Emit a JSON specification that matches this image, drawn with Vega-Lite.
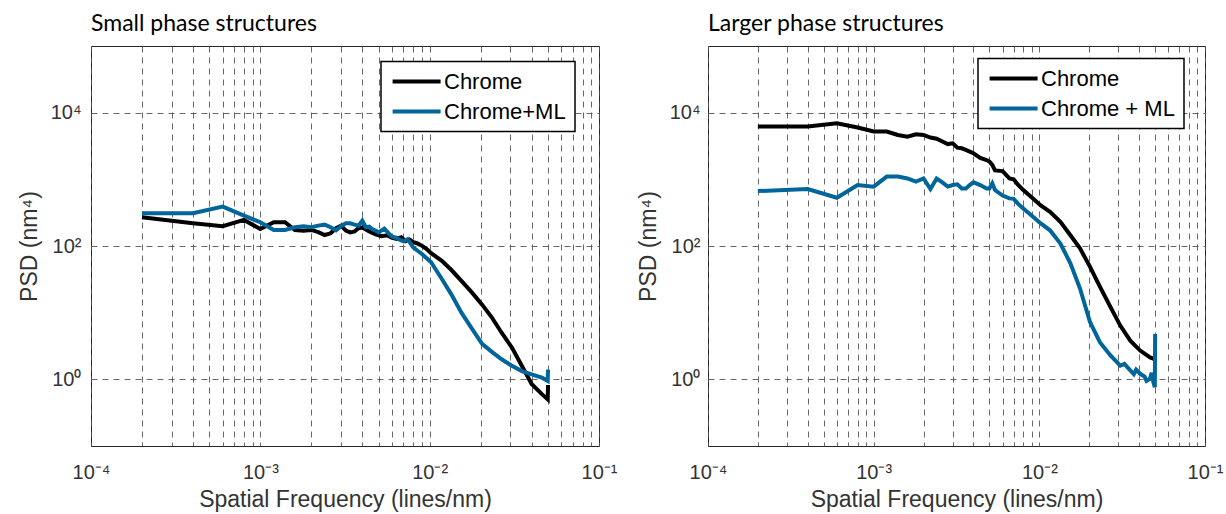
{
  "$schema": "https://vega.github.io/schema/vega-lite/v6.json",
  "background": "white",
  "padding": {"left": 17, "top": 12, "right": 5, "bottom": 2},
  "config": {
    "view": {"stroke": "#262626", "strokeWidth": 1},
    "font": "Liberation Sans",
    "axis": {
      "grid": true, "gridDash": [6, 5], "gridColor": "#4d4d4d", "gridOpacity": 0.85, "gridWidth": 1,
      "domain": false, "ticks": false,
      "labelFont": "Liberation Sans", "labelFontSize": 20, "labelColor": "#333333",
      "titleFont": "Liberation Sans", "titleFontSize": 23, "titleColor": "#333333", "titleFontWeight": "normal",
      "labelFlush": false, "labelOverlap": false
    },
    "legend": {
      "symbolType": "M-1.4,0H6.6", "symbolStrokeWidth": 4, "symbolSize": 144,
      "labelFont": "Liberation Sans", "labelFontSize": 22, "labelColor": "#000000",
      "strokeColor": "#000000", "strokeWidth": 1.5, "fillColor": "#ffffff", "padding": 9, "rowPadding": 8, "labelOffset": 32,
      "symbolOpacity": 1
    },
    "title": {"anchor": "start", "frame": "group", "font": "Lato", "fontSize": 23, "fontWeight": "normal", "color": "#000000", "offset": 10}
  },
  "data": {"values": [
    {"panel": "S", "series": "Chrome", "f": 0.0002, "psd": 270},
    {"panel": "S", "series": "Chrome", "f": 0.0004, "psd": 219},
    {"panel": "S", "series": "Chrome", "f": 0.0006, "psd": 198},
    {"panel": "S", "series": "Chrome", "f": 0.0008, "psd": 246},
    {"panel": "S", "series": "Chrome", "f": 0.001, "psd": 180},
    {"panel": "S", "series": "Chrome", "f": 0.0012, "psd": 227},
    {"panel": "S", "series": "Chrome", "f": 0.0014, "psd": 227},
    {"panel": "S", "series": "Chrome", "f": 0.0016, "psd": 174},
    {"panel": "S", "series": "Chrome", "f": 0.0018, "psd": 170},
    {"panel": "S", "series": "Chrome", "f": 0.002, "psd": 174},
    {"panel": "S", "series": "Chrome", "f": 0.0022, "psd": 161},
    {"panel": "S", "series": "Chrome", "f": 0.0024, "psd": 146},
    {"panel": "S", "series": "Chrome", "f": 0.0026, "psd": 155},
    {"panel": "S", "series": "Chrome", "f": 0.0028, "psd": 185},
    {"panel": "S", "series": "Chrome", "f": 0.003, "psd": 202},
    {"panel": "S", "series": "Chrome", "f": 0.0032, "psd": 170},
    {"panel": "S", "series": "Chrome", "f": 0.0034, "psd": 160},
    {"panel": "S", "series": "Chrome", "f": 0.0036, "psd": 165},
    {"panel": "S", "series": "Chrome", "f": 0.0038, "psd": 185},
    {"panel": "S", "series": "Chrome", "f": 0.004, "psd": 190},
    {"panel": "S", "series": "Chrome", "f": 0.0044, "psd": 165},
    {"panel": "S", "series": "Chrome", "f": 0.0048, "psd": 150},
    {"panel": "S", "series": "Chrome", "f": 0.0052, "psd": 140},
    {"panel": "S", "series": "Chrome", "f": 0.0056, "psd": 145},
    {"panel": "S", "series": "Chrome", "f": 0.006, "psd": 132},
    {"panel": "S", "series": "Chrome", "f": 0.0064, "psd": 128},
    {"panel": "S", "series": "Chrome", "f": 0.0068, "psd": 135},
    {"panel": "S", "series": "Chrome", "f": 0.0072, "psd": 118},
    {"panel": "S", "series": "Chrome", "f": 0.0076, "psd": 125},
    {"panel": "S", "series": "Chrome", "f": 0.008, "psd": 114},
    {"panel": "S", "series": "Chrome", "f": 0.0084, "psd": 110},
    {"panel": "S", "series": "Chrome", "f": 0.009, "psd": 101},
    {"panel": "S", "series": "Chrome", "f": 0.0096, "psd": 90},
    {"panel": "S", "series": "Chrome", "f": 0.0102, "psd": 78},
    {"panel": "S", "series": "Chrome", "f": 0.0118, "psd": 60},
    {"panel": "S", "series": "Chrome", "f": 0.0134, "psd": 44},
    {"panel": "S", "series": "Chrome", "f": 0.0154, "psd": 30},
    {"panel": "S", "series": "Chrome", "f": 0.0178, "psd": 20},
    {"panel": "S", "series": "Chrome", "f": 0.0204, "psd": 13.2},
    {"panel": "S", "series": "Chrome", "f": 0.0232, "psd": 8.6},
    {"panel": "S", "series": "Chrome", "f": 0.0266, "psd": 5.0},
    {"panel": "S", "series": "Chrome", "f": 0.0306, "psd": 3.0},
    {"panel": "S", "series": "Chrome", "f": 0.035, "psd": 1.6},
    {"panel": "S", "series": "Chrome", "f": 0.04, "psd": 0.85},
    {"panel": "S", "series": "Chrome", "f": 0.046, "psd": 0.6},
    {"panel": "S", "series": "Chrome", "f": 0.0498, "psd": 0.5},
    {"panel": "S", "series": "Chrome", "f": 0.05, "psd": 0.82},
    {"panel": "S", "series": "Chrome+ML", "f": 0.0002, "psd": 310},
    {"panel": "S", "series": "Chrome+ML", "f": 0.0004, "psd": 310},
    {"panel": "S", "series": "Chrome+ML", "f": 0.0006, "psd": 390},
    {"panel": "S", "series": "Chrome+ML", "f": 0.0008, "psd": 285},
    {"panel": "S", "series": "Chrome+ML", "f": 0.001, "psd": 227},
    {"panel": "S", "series": "Chrome+ML", "f": 0.0012, "psd": 174},
    {"panel": "S", "series": "Chrome+ML", "f": 0.0014, "psd": 174},
    {"panel": "S", "series": "Chrome+ML", "f": 0.0016, "psd": 191},
    {"panel": "S", "series": "Chrome+ML", "f": 0.0018, "psd": 198},
    {"panel": "S", "series": "Chrome+ML", "f": 0.002, "psd": 191},
    {"panel": "S", "series": "Chrome+ML", "f": 0.0022, "psd": 202},
    {"panel": "S", "series": "Chrome+ML", "f": 0.0024, "psd": 209},
    {"panel": "S", "series": "Chrome+ML", "f": 0.0026, "psd": 191},
    {"panel": "S", "series": "Chrome+ML", "f": 0.0028, "psd": 172},
    {"panel": "S", "series": "Chrome+ML", "f": 0.003, "psd": 200},
    {"panel": "S", "series": "Chrome+ML", "f": 0.0032, "psd": 219},
    {"panel": "S", "series": "Chrome+ML", "f": 0.0034, "psd": 219},
    {"panel": "S", "series": "Chrome+ML", "f": 0.0036, "psd": 209},
    {"panel": "S", "series": "Chrome+ML", "f": 0.0038, "psd": 202},
    {"panel": "S", "series": "Chrome+ML", "f": 0.004, "psd": 240},
    {"panel": "S", "series": "Chrome+ML", "f": 0.0042, "psd": 191},
    {"panel": "S", "series": "Chrome+ML", "f": 0.0044, "psd": 195},
    {"panel": "S", "series": "Chrome+ML", "f": 0.0046, "psd": 178},
    {"panel": "S", "series": "Chrome+ML", "f": 0.0048, "psd": 170},
    {"panel": "S", "series": "Chrome+ML", "f": 0.005, "psd": 160},
    {"panel": "S", "series": "Chrome+ML", "f": 0.0054, "psd": 182},
    {"panel": "S", "series": "Chrome+ML", "f": 0.0058, "psd": 150},
    {"panel": "S", "series": "Chrome+ML", "f": 0.006, "psd": 138},
    {"panel": "S", "series": "Chrome+ML", "f": 0.0064, "psd": 132},
    {"panel": "S", "series": "Chrome+ML", "f": 0.0066, "psd": 125},
    {"panel": "S", "series": "Chrome+ML", "f": 0.007, "psd": 118},
    {"panel": "S", "series": "Chrome+ML", "f": 0.0074, "psd": 126},
    {"panel": "S", "series": "Chrome+ML", "f": 0.0078, "psd": 105},
    {"panel": "S", "series": "Chrome+ML", "f": 0.008, "psd": 95},
    {"panel": "S", "series": "Chrome+ML", "f": 0.009, "psd": 76},
    {"panel": "S", "series": "Chrome+ML", "f": 0.0102, "psd": 57},
    {"panel": "S", "series": "Chrome+ML", "f": 0.0118, "psd": 32},
    {"panel": "S", "series": "Chrome+ML", "f": 0.0134, "psd": 19},
    {"panel": "S", "series": "Chrome+ML", "f": 0.0154, "psd": 10},
    {"panel": "S", "series": "Chrome+ML", "f": 0.0178, "psd": 5.7},
    {"panel": "S", "series": "Chrome+ML", "f": 0.0204, "psd": 3.4},
    {"panel": "S", "series": "Chrome+ML", "f": 0.0232, "psd": 2.6},
    {"panel": "S", "series": "Chrome+ML", "f": 0.0266, "psd": 2.0},
    {"panel": "S", "series": "Chrome+ML", "f": 0.0306, "psd": 1.6},
    {"panel": "S", "series": "Chrome+ML", "f": 0.035, "psd": 1.33},
    {"panel": "S", "series": "Chrome+ML", "f": 0.04, "psd": 1.19},
    {"panel": "S", "series": "Chrome+ML", "f": 0.046, "psd": 1.06},
    {"panel": "S", "series": "Chrome+ML", "f": 0.0498, "psd": 0.95},
    {"panel": "S", "series": "Chrome+ML", "f": 0.05, "psd": 1.4},
    {"panel": "L", "series": "Chrome", "f": 0.0002, "psd": 6200},
    {"panel": "L", "series": "Chrome", "f": 0.0004, "psd": 6200},
    {"panel": "L", "series": "Chrome", "f": 0.0006, "psd": 6950},
    {"panel": "L", "series": "Chrome", "f": 0.0008, "psd": 5990},
    {"panel": "L", "series": "Chrome", "f": 0.001, "psd": 5210},
    {"panel": "L", "series": "Chrome", "f": 0.0012, "psd": 5210},
    {"panel": "L", "series": "Chrome", "f": 0.0014, "psd": 4630},
    {"panel": "L", "series": "Chrome", "f": 0.0016, "psd": 4370},
    {"panel": "L", "series": "Chrome", "f": 0.0018, "psd": 4750},
    {"panel": "L", "series": "Chrome", "f": 0.002, "psd": 4630},
    {"panel": "L", "series": "Chrome", "f": 0.0022, "psd": 4240},
    {"panel": "L", "series": "Chrome", "f": 0.0024, "psd": 4070},
    {"panel": "L", "series": "Chrome", "f": 0.0026, "psd": 3690},
    {"panel": "L", "series": "Chrome", "f": 0.0028, "psd": 3380},
    {"panel": "L", "series": "Chrome", "f": 0.003, "psd": 3470},
    {"panel": "L", "series": "Chrome", "f": 0.0032, "psd": 2990},
    {"panel": "L", "series": "Chrome", "f": 0.0034, "psd": 2920},
    {"panel": "L", "series": "Chrome", "f": 0.0036, "psd": 2760},
    {"panel": "L", "series": "Chrome", "f": 0.0038, "psd": 2600},
    {"panel": "L", "series": "Chrome", "f": 0.004, "psd": 2460},
    {"panel": "L", "series": "Chrome", "f": 0.0044, "psd": 2100},
    {"panel": "L", "series": "Chrome", "f": 0.0048, "psd": 1950},
    {"panel": "L", "series": "Chrome", "f": 0.005, "psd": 1845},
    {"panel": "L", "series": "Chrome", "f": 0.0052, "psd": 1650},
    {"panel": "L", "series": "Chrome", "f": 0.0054, "psd": 1360},
    {"panel": "L", "series": "Chrome", "f": 0.006, "psd": 1330},
    {"panel": "L", "series": "Chrome", "f": 0.0066, "psd": 1035},
    {"panel": "L", "series": "Chrome", "f": 0.007, "psd": 1000},
    {"panel": "L", "series": "Chrome", "f": 0.0074, "psd": 840},
    {"panel": "L", "series": "Chrome", "f": 0.008, "psd": 690},
    {"panel": "L", "series": "Chrome", "f": 0.0088, "psd": 560},
    {"panel": "L", "series": "Chrome", "f": 0.0102, "psd": 405},
    {"panel": "L", "series": "Chrome", "f": 0.0116, "psd": 326},
    {"panel": "L", "series": "Chrome", "f": 0.0134, "psd": 231},
    {"panel": "L", "series": "Chrome", "f": 0.0154, "psd": 145},
    {"panel": "L", "series": "Chrome", "f": 0.0176, "psd": 92},
    {"panel": "L", "series": "Chrome", "f": 0.0202, "psd": 49},
    {"panel": "L", "series": "Chrome", "f": 0.0232, "psd": 24.5},
    {"panel": "L", "series": "Chrome", "f": 0.0268, "psd": 12.3},
    {"panel": "L", "series": "Chrome", "f": 0.0308, "psd": 6.4},
    {"panel": "L", "series": "Chrome", "f": 0.0354, "psd": 3.8},
    {"panel": "L", "series": "Chrome", "f": 0.0406, "psd": 2.7},
    {"panel": "L", "series": "Chrome", "f": 0.0466, "psd": 2.13},
    {"panel": "L", "series": "Chrome", "f": 0.05, "psd": 2.0},
    {"panel": "L", "series": "Chrome + ML", "f": 0.0002, "psd": 667},
    {"panel": "L", "series": "Chrome + ML", "f": 0.0004, "psd": 715},
    {"panel": "L", "series": "Chrome + ML", "f": 0.0006, "psd": 530},
    {"panel": "L", "series": "Chrome + ML", "f": 0.0008, "psd": 820},
    {"panel": "L", "series": "Chrome + ML", "f": 0.001, "psd": 777},
    {"panel": "L", "series": "Chrome + ML", "f": 0.0012, "psd": 1100},
    {"panel": "L", "series": "Chrome + ML", "f": 0.0014, "psd": 1100},
    {"panel": "L", "series": "Chrome + ML", "f": 0.0016, "psd": 1030},
    {"panel": "L", "series": "Chrome + ML", "f": 0.0018, "psd": 922},
    {"panel": "L", "series": "Chrome + ML", "f": 0.002, "psd": 1030},
    {"panel": "L", "series": "Chrome + ML", "f": 0.0022, "psd": 715},
    {"panel": "L", "series": "Chrome + ML", "f": 0.0024, "psd": 1030},
    {"panel": "L", "series": "Chrome + ML", "f": 0.0026, "psd": 900},
    {"panel": "L", "series": "Chrome + ML", "f": 0.0028, "psd": 777},
    {"panel": "L", "series": "Chrome + ML", "f": 0.003, "psd": 820},
    {"panel": "L", "series": "Chrome + ML", "f": 0.0032, "psd": 840},
    {"panel": "L", "series": "Chrome + ML", "f": 0.0034, "psd": 730},
    {"panel": "L", "series": "Chrome + ML", "f": 0.0036, "psd": 730},
    {"panel": "L", "series": "Chrome + ML", "f": 0.0038, "psd": 820},
    {"panel": "L", "series": "Chrome + ML", "f": 0.004, "psd": 900},
    {"panel": "L", "series": "Chrome + ML", "f": 0.0044, "psd": 820},
    {"panel": "L", "series": "Chrome + ML", "f": 0.0048, "psd": 730},
    {"panel": "L", "series": "Chrome + ML", "f": 0.005, "psd": 730},
    {"panel": "L", "series": "Chrome + ML", "f": 0.0052, "psd": 870},
    {"panel": "L", "series": "Chrome + ML", "f": 0.0054, "psd": 690},
    {"panel": "L", "series": "Chrome + ML", "f": 0.006, "psd": 570},
    {"panel": "L", "series": "Chrome + ML", "f": 0.0066, "psd": 518},
    {"panel": "L", "series": "Chrome + ML", "f": 0.007, "psd": 510},
    {"panel": "L", "series": "Chrome + ML", "f": 0.0074, "psd": 435},
    {"panel": "L", "series": "Chrome + ML", "f": 0.008, "psd": 366},
    {"panel": "L", "series": "Chrome + ML", "f": 0.0084, "psd": 330},
    {"panel": "L", "series": "Chrome + ML", "f": 0.0088, "psd": 300},
    {"panel": "L", "series": "Chrome + ML", "f": 0.0102, "psd": 218},
    {"panel": "L", "series": "Chrome + ML", "f": 0.0116, "psd": 172},
    {"panel": "L", "series": "Chrome + ML", "f": 0.0134, "psd": 109},
    {"panel": "L", "series": "Chrome + ML", "f": 0.0154, "psd": 55},
    {"panel": "L", "series": "Chrome + ML", "f": 0.0176, "psd": 23},
    {"panel": "L", "series": "Chrome + ML", "f": 0.0202, "psd": 7.3},
    {"panel": "L", "series": "Chrome + ML", "f": 0.0232, "psd": 3.6},
    {"panel": "L", "series": "Chrome + ML", "f": 0.0268, "psd": 2.3},
    {"panel": "L", "series": "Chrome + ML", "f": 0.0308, "psd": 1.6},
    {"panel": "L", "series": "Chrome + ML", "f": 0.0326, "psd": 1.7},
    {"panel": "L", "series": "Chrome + ML", "f": 0.0354, "psd": 1.36},
    {"panel": "L", "series": "Chrome + ML", "f": 0.0372, "psd": 1.2},
    {"panel": "L", "series": "Chrome + ML", "f": 0.0384, "psd": 1.4},
    {"panel": "L", "series": "Chrome + ML", "f": 0.0406, "psd": 1.21},
    {"panel": "L", "series": "Chrome + ML", "f": 0.0432, "psd": 1.1},
    {"panel": "L", "series": "Chrome + ML", "f": 0.0444, "psd": 0.95},
    {"panel": "L", "series": "Chrome + ML", "f": 0.0466, "psd": 1.02},
    {"panel": "L", "series": "Chrome + ML", "f": 0.0476, "psd": 1.25},
    {"panel": "L", "series": "Chrome + ML", "f": 0.0488, "psd": 0.9},
    {"panel": "L", "series": "Chrome + ML", "f": 0.0498, "psd": 0.76},
    {"panel": "L", "series": "Chrome + ML", "f": 0.05, "psd": 4.8}
  ]},
  "hconcat": [
    {
      "width": 508, "height": 400,
      "title": {"text": "Small phase structures"},
      "transform": [{"filter": "datum.panel == 'S'"}],
      "mark": {"type": "line", "strokeWidth": 4, "clip": true},
      "encoding": {
        "x": {"field": "f", "type": "quantitative", "title": "Spatial Frequency (lines/nm)",
          "scale": {"type": "log", "domain": [0.0001, 0.1], "nice": false},
          "axis": {"values": [0.0001,0.0002,0.0003,0.0004,0.0005,0.0006,0.0007,0.0008,0.0009,0.001,0.002,0.003,0.004,0.005,0.006,0.007,0.008,0.009,0.01,0.02,0.03,0.04,0.05,0.06,0.07,0.08,0.09,0.1],
            "labelExpr": "datum.value == 0.0001 ? '10⁻⁴' : datum.value == 0.001 ? '10⁻³' : datum.value == 0.01 ? '10⁻²' : datum.value == 0.1 ? '10⁻¹' : ''",
            "labelPadding": 16, "titlePadding": 6}},
        "y": {"field": "psd", "type": "quantitative", "title": "PSD (nm⁴)",
          "scale": {"type": "log", "domain": [0.1, 100000], "nice": false},
          "axis": {"values": [1, 100, 10000],
            "labelExpr": "datum.value == 1 ? '10⁰' : datum.value == 100 ? '10²' : '10⁴'",
            "labelPadding": 10, "titlePadding": 9}},
        "color": {"field": "series", "type": "nominal",
          "scale": {"domain": ["Chrome", "Chrome+ML"], "range": ["#000000", "#00659b"]},
          "legend": {"orient": "none", "legendX": 290, "legendY": 15.5, "title": null}}
      }
    },
    {
      "width": 497, "height": 400,
      "title": {"text": "Larger phase structures"},
      "transform": [{"filter": "datum.panel == 'L'"}],
      "mark": {"type": "line", "strokeWidth": 4, "clip": true},
      "encoding": {
        "x": {"field": "f", "type": "quantitative", "title": "Spatial Frequency (lines/nm)",
          "scale": {"type": "log", "domain": [0.0001, 0.1], "nice": false},
          "axis": {"values": [0.0001,0.0002,0.0003,0.0004,0.0005,0.0006,0.0007,0.0008,0.0009,0.001,0.002,0.003,0.004,0.005,0.006,0.007,0.008,0.009,0.01,0.02,0.03,0.04,0.05,0.06,0.07,0.08,0.09,0.1],
            "labelExpr": "datum.value == 0.0001 ? '10⁻⁴' : datum.value == 0.001 ? '10⁻³' : datum.value == 0.01 ? '10⁻²' : datum.value == 0.1 ? '10⁻¹' : ''",
            "labelPadding": 16, "titlePadding": 6}},
        "y": {"field": "psd", "type": "quantitative", "title": "PSD (nm⁴)",
          "scale": {"type": "log", "domain": [0.1, 100000], "nice": false},
          "axis": {"values": [1, 100, 10000],
            "labelExpr": "datum.value == 1 ? '10⁰' : datum.value == 100 ? '10²' : '10⁴'",
            "labelPadding": 8, "titlePadding": 9}},
        "color": {"field": "series", "type": "nominal",
          "scale": {"domain": ["Chrome", "Chrome + ML"], "range": ["#000000", "#00659b"]},
          "legend": {"orient": "none", "legendX": 270, "legendY": 12.5, "title": null}}
      }
    }
  ],
  "spacing": 109,
  "bounds": "flush",
  "resolve": {"scale": {"color": "independent", "x": "independent", "y": "independent"}, "legend": {"color": "independent"}}
}
